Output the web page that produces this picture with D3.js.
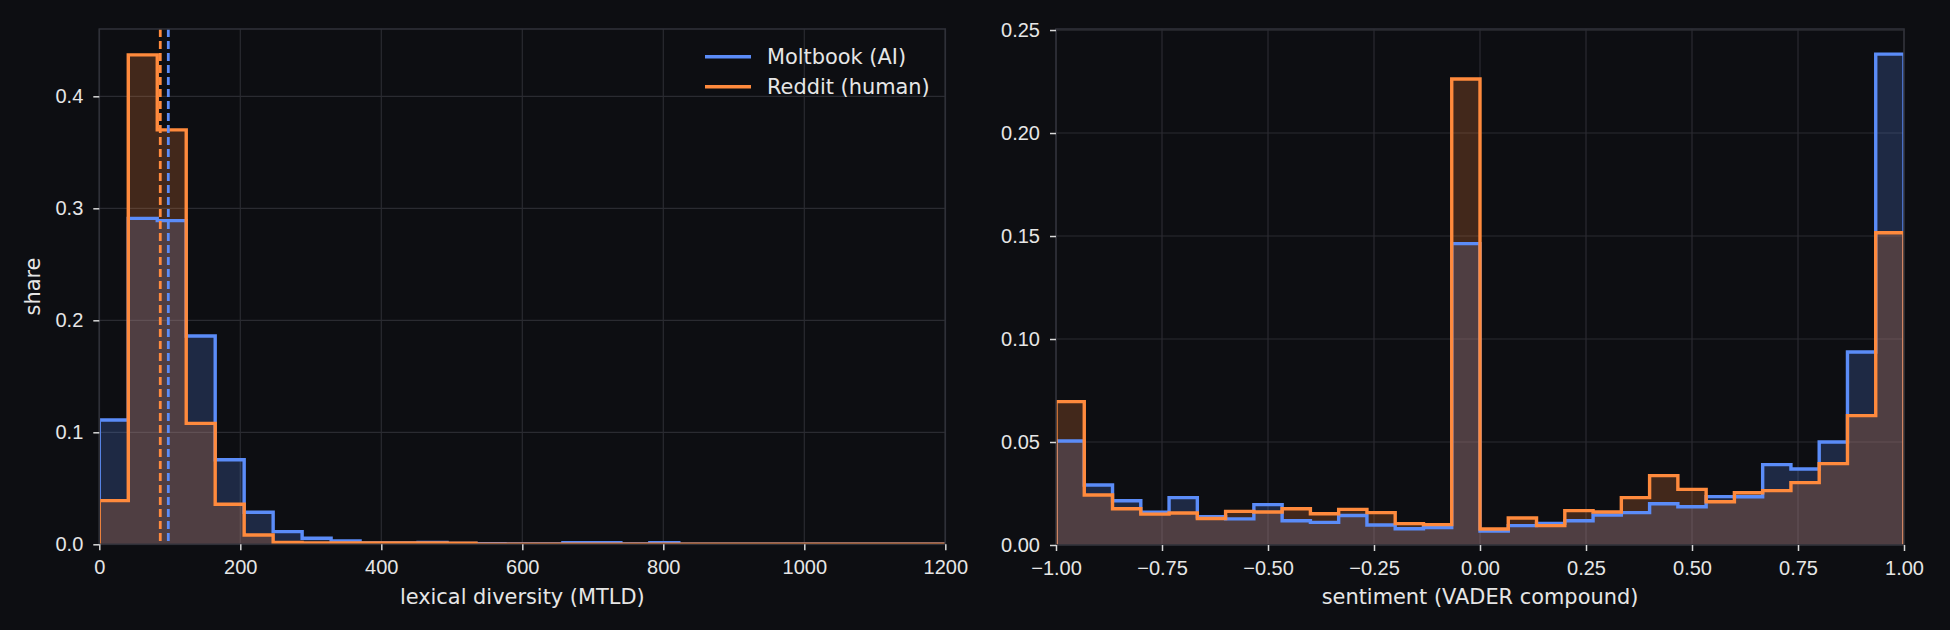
<!DOCTYPE html>
<html>
<head>
<meta charset="utf-8">
<script src="https://cdn.jsdelivr.net/npm/d3@7.9.0/dist/d3.min.js"></script>
<style>
  html, body { margin: 0; padding: 0; background: #0d0e12; }
  svg { display: block; font-family: "DejaVu Sans", sans-serif; }
  .tick text { fill: #e6e6e6; font-size: 20px; }
  .tick line { stroke: #d8d8d8; stroke-width: 1.5; }
  .domain { display: none; }
  .grid line { stroke: #2a2b31; stroke-width: 1.2; }
  .lbl { fill: #e6e6e6; font-size: 20.9px; }
</style>
</head>
<body>
<svg id="chart" width="1950" height="630"></svg>
<script>
// --- data ---
const seriesNames = ['Moltbook (AI)', 'Reddit (human)'];
const seriesColors = ['#5b8cf8', '#ff8a3d'];

// left panel: lexical diversity (MTLD), share per bin
const mtldBinStart = 0;
const mtldBinWidth = 41.1;
const mtldMolt = [0.111, 0.291, 0.289, 0.186, 0.0755, 0.0286, 0.0113, 0.0054, 0.0029, 0.0012,
                  0.0011, 0.0016, 0.0008, 0.0006, 0.0004, 0.0003, 0.0015, 0.0015, 0.0003, 0.0014,
                  0, 0, 0, 0, 0, 0, 0, 0, 0, 0];
const mtldReddit = [0.039, 0.437, 0.370, 0.108, 0.0357, 0.0083, 0.0016, 0.0013, 0.0012, 0.0012,
                    0.0012, 0.0011, 0.0010, 0.0002, 0.0002, 0.0001, 0.0001, 0.0001, 0, 0,
                    0, 0, 0, 0, 0, 0, 0, 0, 0, 0];
const mtldMedians = [97.9, 86.5];
const mtldXTicks = [0, 200, 400, 600, 800, 1000, 1200];
const mtldYTicks = [0.0, 0.1, 0.2, 0.3, 0.4];

// right panel: sentiment (VADER compound), 30 bins from -1 to 1
const sentBinStart = -1;
const sentBinWidth = 2 / 30;
const sentMolt = [0.0505, 0.0291, 0.0215, 0.0159, 0.0230, 0.0137, 0.0127, 0.0196, 0.0118, 0.0110,
                  0.0143, 0.0097, 0.0079, 0.0085, 0.1463, 0.0068, 0.0094, 0.0105, 0.0118, 0.0146,
                  0.0157, 0.0200, 0.0186, 0.0235, 0.0234, 0.0390, 0.0369, 0.0500, 0.0937, 0.2383];
const sentReddit = [0.0696, 0.0243, 0.0176, 0.0150, 0.0155, 0.0129, 0.0163, 0.0160, 0.0176, 0.0152,
                    0.0173, 0.0157, 0.0104, 0.0099, 0.2262, 0.0078, 0.0131, 0.0094, 0.0167, 0.0160,
                    0.0230, 0.0337, 0.0270, 0.0210, 0.0254, 0.0264, 0.0303, 0.0395, 0.0628, 0.1516];
const sentXTicks = [-1, -0.75, -0.5, -0.25, 0, 0.25, 0.5, 0.75, 1];
const sentYTicks = [0, 0.05, 0.10, 0.15, 0.20, 0.25];

const svg = d3.select('#chart');

function histPoints(values, start, width) {
  const pts = [[start, 0]];
  values.forEach((v, i) => {
    pts.push([start + i * width, v]);
    pts.push([start + (i + 1) * width, v]);
  });
  pts.push([start + values.length * width, 0]);
  return pts;
}

function drawPanel(opt) {
  const { left, top, width, height, xDomain, yDomain, xTicks, yTicks, xFmt, yFmt, id } = opt;
  const x = d3.scaleLinear().domain(xDomain).range([left, left + width]);
  const y = d3.scaleLinear().domain(yDomain).range([top + height, top]);

  svg.append('clipPath').attr('id', id)
    .append('rect').attr('x', left).attr('y', top).attr('width', width).attr('height', height);

  // grid
  const grid = svg.append('g').attr('class', 'grid');
  grid.selectAll('.gx').data(xTicks).enter().append('line')
    .attr('x1', d => x(d)).attr('x2', d => x(d)).attr('y1', top).attr('y2', top + height);
  grid.selectAll('.gy').data(yTicks).enter().append('line')
    .attr('x1', left).attr('x2', left + width).attr('y1', d => y(d)).attr('y2', d => y(d));

  const plot = svg.append('g').attr('clip-path', `url(#${id})`);
  const line = d3.line().x(d => x(d[0])).y(d => y(d[1]));

  // fills first, then outlines
  opt.series.forEach((vals, i) => {
    plot.append('path')
      .attr('d', line(histPoints(vals, opt.binStart, opt.binWidth)) + 'Z')
      .attr('fill', seriesColors[i]).attr('fill-opacity', 0.22).attr('stroke', 'none');
  });
  opt.series.forEach((vals, i) => {
    plot.append('path')
      .attr('d', line(histPoints(vals, opt.binStart, opt.binWidth)))
      .attr('fill', 'none').attr('stroke', seriesColors[i])
      .attr('stroke-width', 3.4).attr('stroke-linejoin', 'miter');
  });

  if (opt.medians) {
    opt.medians.forEach((m, i) => {
      plot.append('line')
        .attr('x1', x(m)).attr('x2', x(m)).attr('y1', top).attr('y2', top + height)
        .attr('stroke', seriesColors[i]).attr('stroke-width', 2.8)
        .attr('stroke-dasharray', '8,4');
    });
  }

  // spines
  svg.append('rect').attr('x', left).attr('y', top).attr('width', width).attr('height', height)
    .attr('fill', 'none').attr('stroke', '#2f3038').attr('stroke-width', 1.6);

  svg.append('g').attr('transform', `translate(0,${top + height})`)
    .call(d3.axisBottom(x).tickValues(xTicks).tickFormat(d3.format(xFmt)).tickSize(6).tickPadding(10));
  svg.append('g').attr('transform', `translate(${left},0)`)
    .call(d3.axisLeft(y).tickValues(yTicks).tickFormat(d3.format(yFmt)).tickSize(6).tickPadding(10));

  svg.append('text').attr('class', 'lbl')
    .attr('x', left + width / 2).attr('y', 604).attr('text-anchor', 'middle')
    .text(opt.xLabel);
  return { x, y };
}

drawPanel({
  id: 'clipL', left: 99.3, top: 29, width: 846, height: 515.3,
  xDomain: [0, 1200], yDomain: [0, 0.4601],
  xTicks: mtldXTicks, yTicks: mtldYTicks, xFmt: 'd', yFmt: '.1f',
  series: [mtldMolt, mtldReddit], binStart: mtldBinStart, binWidth: mtldBinWidth,
  medians: mtldMedians, xLabel: 'lexical diversity (MTLD)'
});

drawPanel({
  id: 'clipR', left: 1056, top: 29, width: 848, height: 516,
  xDomain: [-1, 1], yDomain: [0, 0.2505],
  xTicks: sentXTicks, yTicks: sentYTicks, xFmt: '.2f', yFmt: '.2f',
  series: [sentMolt, sentReddit], binStart: sentBinStart, binWidth: sentBinWidth,
  xLabel: 'sentiment (VADER compound)'
});

// y label
svg.append('text').attr('class', 'lbl')
  .attr('transform', 'translate(40,286.5) rotate(-90)')
  .attr('text-anchor', 'middle').text('share');

// legend
const legend = svg.append('g');
seriesNames.forEach((name, i) => {
  const ly = 56.7 + i * 30;
  legend.append('line').attr('x1', 705).attr('x2', 751).attr('y1', ly).attr('y2', ly)
    .attr('stroke', seriesColors[i]).attr('stroke-width', 3.6);
  legend.append('text').attr('class', 'lbl').attr('x', 767).attr('y', ly + 7.4).text(name);
});
</script>
</body>
</html>
